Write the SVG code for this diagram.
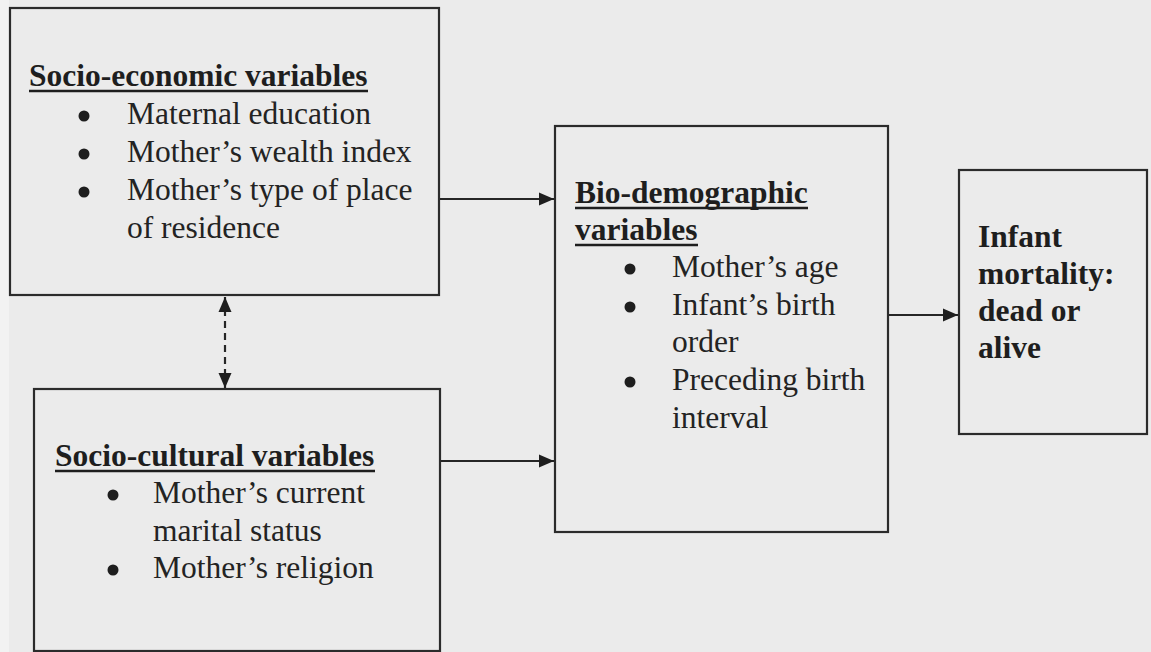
<svg xmlns="http://www.w3.org/2000/svg" width="1151" height="652" viewBox="0 0 1151 652">
<style>
.box{fill:none;stroke:#2b2b2b;stroke-width:2.2}
.t{font-family:"Liberation Serif","Times New Roman",serif;font-size:31.5px;fill:#232323}
.b{font-weight:bold;fill:#1e1e1e}
.ul{stroke:#1e1e1e;stroke-width:2.6}
.dot{fill:#1e1e1e}
.conn{stroke:#262626;stroke-width:2.2;fill:none}
.dash{stroke-dasharray:7 5}
</style>
<defs>
<marker id="ah" markerUnits="userSpaceOnUse" markerWidth="16" markerHeight="14" refX="15" refY="7" orient="auto-start-reverse">
<path d="M0,0.5 L15,7 L0,13.5 z" fill="#1e1e1e"/>
</marker>
</defs>
<rect x="0" y="0" width="1151" height="652" fill="#ebebeb"/>
<rect x="0" y="0" width="9" height="652" fill="#f2f2f2"/>

<g id="socio-economic">
<rect class="box" x="10" y="8" width="429" height="287"/>
<text class="t b" x="29" y="86">Socio-economic variables</text>
<line class="ul" x1="29" y1="91" x2="368" y2="91"/>
<circle class="dot" cx="84" cy="116" r="5.5"/>
<text class="t" x="127" y="124">Maternal education</text>
<circle class="dot" cx="84" cy="154" r="5.5"/>
<text class="t" x="127" y="162">Mother’s wealth index</text>
<circle class="dot" cx="84" cy="192" r="5.5"/>
<text class="t" x="127" y="200">Mother’s type of place</text>
<text class="t" x="127" y="238">of residence</text>
</g>

<g id="socio-cultural">
<rect class="box" x="34" y="389" width="406" height="262"/>
<text class="t b" x="55" y="466">Socio-cultural variables</text>
<line class="ul" x1="55" y1="471" x2="375" y2="471"/>
<circle class="dot" cx="113" cy="495" r="5.5"/>
<text class="t" x="153" y="503">Mother’s current</text>
<text class="t" x="153" y="541">marital status</text>
<circle class="dot" cx="113" cy="570" r="5.5"/>
<text class="t" x="153" y="578">Mother’s religion</text>
</g>

<g id="bio-demographic">
<rect class="box" x="555" y="126" width="333" height="406"/>
<text class="t b" x="575" y="203">Bio-demographic</text>
<line class="ul" x1="575" y1="208" x2="808" y2="208"/>
<text class="t b" x="575" y="240">variables</text>
<line class="ul" x1="575" y1="245" x2="698" y2="245"/>
<circle class="dot" cx="630" cy="269" r="5.5"/>
<text class="t" x="672" y="277">Mother’s age</text>
<circle class="dot" cx="630" cy="307" r="5.5"/>
<text class="t" x="672" y="315">Infant’s birth</text>
<text class="t" x="672" y="352">order</text>
<circle class="dot" cx="630" cy="382" r="5.5"/>
<text class="t" x="672" y="390">Preceding birth</text>
<text class="t" x="672" y="428">interval</text>
</g>

<g id="infant-mortality">
<rect class="box" x="959" y="170" width="188" height="264"/>
<text class="t b" x="978" y="247">Infant</text>
<text class="t b" x="978" y="284">mortality:</text>
<text class="t b" x="978" y="321">dead or</text>
<text class="t b" x="978" y="358">alive</text>
</g>

<g id="connectors">
<line class="conn" x1="440" y1="199" x2="554" y2="199" marker-end="url(#ah)"/>
<line class="conn" x1="441" y1="461" x2="554" y2="461" marker-end="url(#ah)"/>
<line class="conn" x1="889" y1="315" x2="958" y2="315" marker-end="url(#ah)"/>
<line class="conn dash" x1="225" y1="297" x2="225" y2="388" marker-start="url(#ah)" marker-end="url(#ah)"/>
</g>
</svg>
